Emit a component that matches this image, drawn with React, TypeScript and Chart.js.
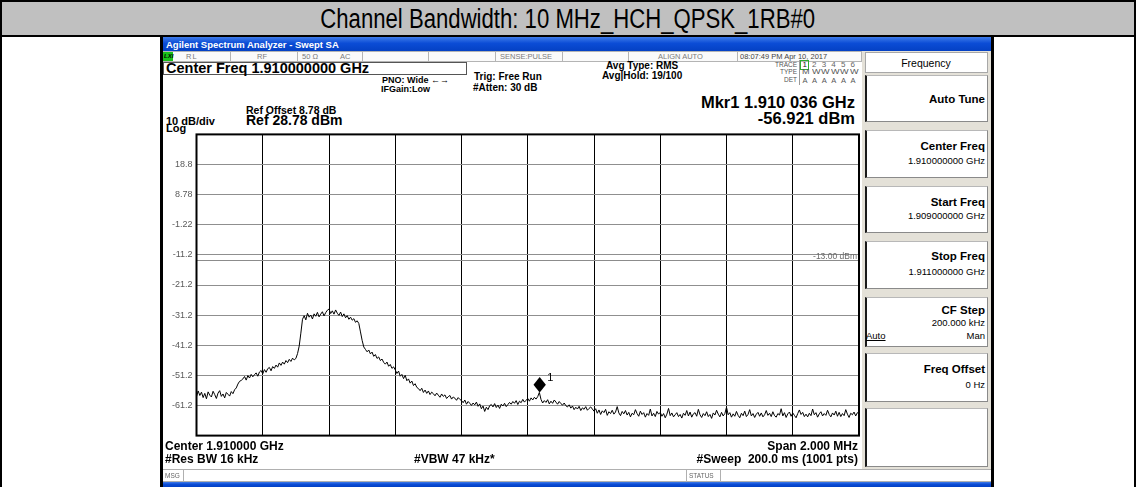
import React, { useEffect, useRef } from 'react';
import { Chart, registerables } from 'chart.js';

Chart.register(...registerables);

// ---------- data ----------
const titleText = 'Channel Bandwidth: 10 MHz_HCH_QPSK_1RB#0';
const traceStartMHz = 1909.0;
const traceStepMHz = 0.005;
const traceLevels = [
  -58.3, -56.4, -57.9, -56.8, -58.6, -57.2, -59.0, -56.7, -57.8, -58.4,
  -56.5, -57.6, -58.9, -57.1, -56.3, -58.2, -57.4, -58.7, -56.9, -57.5,
  -58.1, -56.6, -57.3, -56.0, -55.4,
  -54.1, -53.2, -52.9,
  -52.4, -51.6, -52.8, -51.3, -52.1, -50.9, -51.7, -51.0, -50.4, -51.5,
  -50.1, -49.6, -50.7, -49.3, -50.2, -49.0, -48.6, -49.7, -48.3, -48.9,
  -47.8, -48.5, -47.1, -47.9, -46.8, -47.5, -46.3, -47.0, -45.9, -46.6, -45.5, -46.1,
  -45.6, -44.0, -41.5, -37.2, -32.6,
  -31.4, -32.8, -30.6, -31.9, -31.2, -32.5, -30.8, -31.6, -30.3, -31.8,
  -30.9, -30.1, -31.5, -30.4, -29.6, -29.2, -30.7, -29.8, -30.9, -29.5,
  -30.6, -31.3, -30.2, -31.7, -30.8, -32.1, -31.4, -32.6, -31.9, -32.9,
  -32.4, -33.6, -33.1,
  -34.0, -36.8, -39.6, -41.8,
  -42.6, -43.4, -42.8, -44.1, -43.5, -44.9, -44.3, -45.6, -45.1, -46.3,
  -45.8, -46.9, -47.5, -46.8, -48.2, -47.6, -48.9, -48.4,
  -49.4, -50.6, -49.8, -51.5, -50.9, -52.3, -51.2, -53.0, -52.4, -53.8,
  -53.1, -54.6, -54.0, -55.2,
  -55.6, -56.3, -55.5, -56.9, -56.1, -57.2, -56.4, -57.6, -56.8, -57.3,
  -58.0, -57.1, -57.8, -58.5, -57.4, -58.2, -57.7, -58.9, -58.3, -57.9, -59.1, -58.4, -58.8, -59.5, -58.6, -59.2,
  -59.6, -60.3, -59.4, -60.8, -59.9, -60.5, -61.2, -60.4, -61.0, -60.1,
  -61.5, -60.7, -62.3, -61.4, -63.2, -61.8, -62.6, -61.3, -60.9, -61.7,
  -60.6, -61.9, -61.1, -62.2, -60.8, -61.4, -60.5, -61.6, -60.9, -60.2,
  -60.8, -59.9, -60.5, -59.6, -60.9, -59.8, -60.3, -59.2, -60.1, -59.5,
  -58.9, -59.8, -58.7, -59.4, -58.5, -59.1, -58.3,
  -56.9,
  -59.2, -60.4, -59.6, -60.2, -59.3, -60.7, -59.8, -60.5, -59.4, -60.1,
  -60.8, -59.9, -60.6, -61.1, -60.4, -61.3,
  -61.7, -61.0, -62.1, -61.4, -62.6, -61.8, -62.4, -61.5, -62.9, -62.0,
  -62.5, -61.6, -62.8, -62.2, -61.7, -62.4,
  -63.1, -62.3, -63.8, -62.7, -64.2, -63.0, -63.6, -62.5, -64.5, -63.3,
  -63.9, -62.8, -64.1, -63.4, -61.6, -63.7, -64.6, -63.2, -64.0, -62.9,
  -64.4, -63.5, -65.0, -63.8, -64.3, -62.6, -63.9, -64.8, -63.1, -64.2,
  -63.6, -65.1, -63.9, -64.5, -62.4, -64.7, -63.8, -64.9, -63.2, -64.1,
  -63.5, -64.8, -63.9, -65.3, -64.1, -62.2, -64.6, -63.7, -65.0, -64.3,
  -63.6, -64.9, -64.2, -65.4, -63.8, -64.5, -62.9, -64.7, -63.4, -65.1,
  -64.0, -63.6, -64.8, -62.5, -64.3, -65.2, -63.9, -64.6, -63.3, -64.9,
  -64.2, -65.5, -63.7, -64.4, -62.8, -64.1, -65.0, -63.5, -64.7, -63.9,
  -61.8, -64.3, -63.6, -65.1, -64.0, -64.8, -63.2, -64.5, -65.3, -63.8,
  -64.6, -63.1, -64.9, -64.2, -62.6, -64.7, -63.9, -65.2, -64.1, -63.5,
  -64.8, -63.7, -65.0, -64.3, -62.9, -64.5, -63.8, -64.9, -63.3, -64.6,
  -65.1, -63.9, -64.4, -62.3, -64.7, -63.6, -65.2, -64.0, -63.4, -64.8,
  -63.7, -64.5, -65.3, -63.9, -62.7, -64.2, -63.5, -64.9, -64.1, -65.0,
  -63.8, -64.6, -62.4, -64.3, -63.6, -65.1, -64.0, -63.3, -64.7, -63.9,
  -64.5, -62.8, -64.2, -65.0, -63.7, -64.4, -63.1, -64.8, -63.5, -64.9,
  -63.9, -64.6, -62.6, -64.1, -65.2, -63.8, -64.3, -63.4, -64.7, -63.6,
  -64.0,
];
const xGridMHz = [1909.0, 1909.2, 1909.4, 1909.6, 1909.8, 1910.0, 1910.2, 1910.4, 1910.6, 1910.8, 1911.0];
const yGridDbm = [-71.22, -61.22, -51.22, -41.22, -31.22, -21.22, -11.22, -1.22, 8.78, 18.78, 28.78];
const yTickLabels = ['', '-61.2', '-51.2', '-41.2', '-31.2', '-21.2', '-11.2', '-1.22', '8.78', '18.8', ''];
const markerFreqMHz = 1910.036;
const markerLevelDbm = -56.921;
const markerLabel = '1';
const displayLineDbm = -13.0;
const displayLineLabel = '-13.00 dBm';

const traceNums = ['1', '2', '3', '4', '5', '6'];
const traceTypes = ['M', 'W', 'W', 'W', 'W', 'W'];
const traceDets = ['A', 'A', 'A', 'A', 'A', 'A'];

const FONT = "'Liberation Sans', Arial, Helvetica, sans-serif";

function T(props: any) {
  const { x, y, s = 10, b = false, c = '#000', r = false, center = false, u = false, children, extra } = props;
  const style: any = {
    position: 'absolute',
    top: y - s * 0.6,
    height: s * 1.2,
    fontSize: s,
    lineHeight: `${s * 1.2}px`,
    whiteSpace: 'nowrap',
    fontWeight: b ? 700 : 400,
    color: c,
    textDecoration: u ? 'underline' : 'none',
    ...(extra || {}),
  };
  if (r) style.right = 1136 - x;
  else if (center) {
    style.left = x;
    style.transform = 'translateX(-50%)';
  } else style.left = x;
  return <div style={style}>{children}</div>;
}

function Bx(props: any) {
  const { x, y, w, h, style } = props;
  return <div style={{ position: 'absolute', left: x, top: y, width: w, height: h, boxSizing: 'border-box', ...(style || {}) }} />;
}

function SK(props: any) {
  const { y, h } = props;
  return (
    <Bx
      x={865}
      y={y}
      w={123}
      h={h}
      style={{
        background: '#fff',
        borderTop: '1px solid #b8b8b8',
        borderRight: '1px solid #8a8a8a',
        borderBottom: '1px solid #8a8a8a',
        borderLeft: '2px solid #1a1a1a',
      }}
    />
  );
}

const blueGrad = 'linear-gradient(to bottom, #3f7ce9 0%, #0b4cd6 45%, #0441c4 100%)';

export default function App() {
  const ref = useRef<HTMLCanvasElement | null>(null);

  useEffect(() => {
    if (!ref.current) return;
    const data = traceLevels.map((v, i) => ({ x: traceStartMHz + i * traceStepMHz, y: v }));
    const saPlugin = {
      id: 'saOverlay',
      beforeDatasetsDraw(chart: any) {
        const { ctx, chartArea, scales } = chart;
        const y = scales.y.getPixelForValue(displayLineDbm);
        ctx.save();
        ctx.strokeStyle = '#8c8c8c';
        ctx.lineWidth = 1;
        ctx.beginPath();
        ctx.moveTo(chartArea.left, Math.round(y) + 0.5);
        ctx.lineTo(chartArea.right, Math.round(y) + 0.5);
        ctx.stroke();
        ctx.fillStyle = '#6a6a6a';
        ctx.font = `8.5px ${FONT}`;
        ctx.textAlign = 'right';
        ctx.textBaseline = 'middle';
        ctx.fillText(displayLineLabel, chartArea.right - 2, y - 3.5);
        ctx.restore();
      },
      afterDatasetsDraw(chart: any) {
        const { ctx, chartArea, scales } = chart;
        const mx = scales.x.getPixelForValue(markerFreqMHz);
        const my = scales.y.getPixelForValue(markerLevelDbm);
        ctx.save();
        ctx.fillStyle = '#000';
        ctx.beginPath();
        ctx.moveTo(mx, my);
        ctx.lineTo(mx + 6.2, my - 7.8);
        ctx.lineTo(mx, my - 15.6);
        ctx.lineTo(mx - 6.2, my - 7.8);
        ctx.closePath();
        ctx.fill();
        ctx.font = `11px ${FONT}`;
        ctx.textAlign = 'left';
        ctx.textBaseline = 'middle';
        ctx.fillText(markerLabel, mx + 7.5, my - 14.5);
        ctx.strokeStyle = '#000';
        ctx.lineWidth = 2;
        ctx.strokeRect(chartArea.left, chartArea.top, chartArea.right - chartArea.left, chartArea.bottom - chartArea.top);
        ctx.restore();
      },
    };

    const chart = new Chart(ref.current, {
      type: 'line',
      data: {
        datasets: [
          {
            data,
            borderColor: '#000',
            borderWidth: 1,
            pointRadius: 0,
            tension: 0,
            fill: false,
          },
        ],
      },
      options: {
        animation: false,
        responsive: false,
        devicePixelRatio: 1,
        layout: { padding: { top: 5.5, right: 6, bottom: 7, left: 0 } },
        plugins: { legend: { display: false }, tooltip: { enabled: false } },
        scales: {
          x: {
            type: 'linear',
            min: xGridMHz[0],
            max: xGridMHz[xGridMHz.length - 1],
            afterBuildTicks: (s: any) => {
              s.ticks = xGridMHz.map((v) => ({ value: v }));
            },
            afterFit: (s: any) => {
              s.height = 0;
            },
            ticks: { display: false },
            grid: { color: '#000', lineWidth: 1, drawTicks: false },
            border: { display: false },
          },
          y: {
            type: 'linear',
            min: yGridDbm[0],
            max: yGridDbm[yGridDbm.length - 1],
            afterBuildTicks: (s: any) => {
              s.ticks = yGridDbm.map((v) => ({ value: v }));
            },
            afterFit: (s: any) => {
              s.width = 36.5;
            },
            ticks: {
              padding: 4,
              color: '#5a5a5a',
              font: { family: FONT, size: 9 },
              callback: (_v: any, i: number) => yTickLabels[i],
            },
            grid: { color: '#8f8f8f', lineWidth: 1, drawTicks: false },
            border: { display: false },
          },
        },
      } as any,
      plugins: [saPlugin],
    });
    return () => chart.destroy();
  }, []);

  const g = '#7a7a7a';
  const statusSeps = [230, 297, 362, 428, 495, 562, 628, 737];

  return (
    <div
      style={{
        position: 'fixed',
        left: 0,
        top: 0,
        width: 1136,
        height: 487,
        overflow: 'hidden',
        background: '#fff',
        fontFamily: FONT,
      }}
    >
      {/* outer table */}
      <Bx x={0} y={0} w={1136} h={37} style={{ background: '#c0c0c0', border: '2px solid #000' }} />
      <div
        style={{
          position: 'absolute',
          left: 0,
          width: 1136,
          top: 4,
          height: 30,
          lineHeight: '30px',
          textAlign: 'center',
          fontSize: 27,
          color: '#000',
          whiteSpace: 'nowrap',
        }}
      >
        <span style={{ display: 'inline-block', transform: 'scaleX(0.82)' }}>{titleText}</span>
      </div>
      <Bx x={0} y={36} w={2} h={451} style={{ background: '#000' }} />
      <Bx x={1134} y={36} w={2} h={451} style={{ background: '#000' }} />

      {/* instrument frame */}
      <Bx x={160} y={36} w={3} h={451} style={{ background: '#000' }} />
      <Bx x={991} y={36} w={3} h={451} style={{ background: '#000' }} />
      <Bx x={163} y={37} w={828} h={14} style={{ background: blueGrad }} />
      <T x={166} y={44.5} s={9.5} b c="#fff">Agilent Spectrum Analyzer - Swept SA</T>

      {/* status row */}
      <Bx x={163} y={51} w={699} h={11} style={{ background: '#fafafa', border: '1px solid #b4b4b4' }} />
      {statusSeps.map((sx) => (
        <Bx key={sx} x={sx} y={51} w={1} h={11} style={{ background: '#b4b4b4' }} />
      ))}
      <Bx x={163} y={52} w={10} h={9} style={{ background: '#19c019' }} />
      <T x={164} y={56.5} s={6} b extra={{ fontStyle: 'italic' }}>LXI</T>
      <T x={186} y={56.5} s={7.5} c={g} extra={{ letterSpacing: 1 }}>RL</T>
      <T x={257} y={56.5} s={7.5} c={g}>RF</T>
      <T x={302} y={56.5} s={7.5} c={g}>50 Ω</T>
      <T x={340} y={56.5} s={7.5} c={g}>AC</T>
      <T x={500} y={56.5} s={7.5} c={g}>SENSE:PULSE</T>
      <T x={658} y={56.5} s={7.5} c={g}>ALIGN AUTO</T>
      <T x={740} y={56.5} s={7.5} c="#444">08:07:49 PM Apr 10, 2017</T>

      {/* header */}
      <Bx x={163} y={62} w={304} h={13} style={{ border: '1px solid #555' }} />
      <T x={166} y={68.5} s={14.5} b>Center Freq 1.910000000 GHz</T>
      <T x={382} y={80} s={9} b>PNO: Wide ←→</T>
      <T x={381} y={89} s={9} b>IFGain:Low</T>
      <T x={474} y={77} s={10} b>Trig: Free Run</T>
      <T x={473} y={88} s={10} b>#Atten: 30 dB</T>
      <T x={606} y={66} s={10} b>Avg Type: RMS</T>
      <T x={602} y={76} s={10} b>Avg|Hold: 19/100</T>

      <T x={797} y={64.5} s={6.5} c="#555" r>TRACE</T>
      <T x={797} y={72} s={6.5} c="#555" r>TYPE</T>
      <T x={797} y={79.5} s={6.5} c="#555" r>DET</T>
      <Bx x={799} y={60} w={1} h={25} style={{ background: '#9a9a9a' }} />
      <Bx x={800} y={60} w={9} h={10} style={{ border: '1px solid #2fae2f' }} />
      {traceNums.map((n, k) => (
        <T key={'n' + k} x={802.5 + k * 9.6} y={64.8} s={8} c={k === 0 ? '#222' : '#666'}>{n}</T>
      ))}
      {traceTypes.map((n, k) => (
        <T key={'t' + k} x={802 + k * 9.6} y={72.5} s={7} c="#555" extra={{ transform: 'scaleX(1.3)', transformOrigin: 'left' }}>{n}</T>
      ))}
      {traceDets.map((n, k) => (
        <T key={'d' + k} x={802.5 + k * 9.6} y={80} s={7.5} c="#555">{n}</T>
      ))}

      <T x={855} y={103} s={16.5} b r>Mkr1 1.910 036 GHz</T>
      <T x={855} y={118.5} s={16.5} b r>-56.921 dBm</T>
      <T x={246} y={110} s={10.5} b>Ref Offset 8.78 dB</T>
      <T x={246} y={120.5} s={14} b>Ref 28.78 dBm</T>
      <T x={166} y={121.5} s={11} b>10 dB/div</T>
      <T x={166} y={129} s={11} b>Log</T>

      {/* right panel */}
      <Bx x={862} y={51} w={129} h={419} style={{ background: '#e4e1d8' }} />
      <Bx x={865} y={52} w={123} h={21} style={{ background: '#fff', border: '1px solid #a8a8a8' }} />
      <T x={926} y={63} s={10.5} center>Frequency</T>
      <SK y={75} h={47} />
      <T x={985} y={100} s={11.5} b r>Auto Tune</T>
      <SK y={130} h={48} />
      <T x={985} y={147} s={11.5} b r>Center Freq</T>
      <T x={985} y={160.5} s={9.5} r>1.910000000 GHz</T>
      <SK y={186} h={47} />
      <T x={985} y={202.5} s={11.5} b r>Start Freq</T>
      <T x={985} y={216} s={9.5} r>1.909000000 GHz</T>
      <SK y={241} h={48} />
      <T x={985} y={257} s={11.5} b r>Stop Freq</T>
      <T x={985} y={272} s={9.5} r>1.911000000 GHz</T>
      <SK y={297} h={50} />
      <T x={985} y={311} s={11.5} b r>CF Step</T>
      <T x={985} y={323} s={9.5} r>200.000 kHz</T>
      <T x={866} y={335.5} s={9.5} u>Auto</T>
      <T x={985} y={335.5} s={9.5} r>Man</T>
      <SK y={353} h={49} />
      <T x={985} y={370} s={11.5} b r>Freq Offset</T>
      <T x={985} y={385} s={9.5} r>0 Hz</T>
      <SK y={408} h={59} />

      {/* chart */}
      <canvas
        ref={ref}
        width={705}
        height={320}
        style={{ position: 'absolute', left: 160, top: 125, width: 705, height: 320 }}
      />

      {/* footer */}
      <T x={165} y={446} s={12} b>Center 1.910000 GHz</T>
      <T x={858} y={446} s={12} b r>Span 2.000 MHz</T>
      <T x={165} y={459} s={12} b>#Res BW 16 kHz</T>
      <T x={414} y={459} s={12} b>#VBW 47 kHz*</T>
      <T x={858} y={459} s={12} b r extra={{ whiteSpace: 'pre' }}>#Sweep  200.0 ms (1001 pts)</T>
      <Bx x={163} y={469} w={828} h={13} style={{ background: '#fff', borderTop: '1px solid #b0b0b0', borderBottom: '1px solid #b0b0b0' }} />
      <Bx x={183} y={469} w={1} h={13} style={{ background: '#b0b0b0' }} />
      <Bx x={686} y={469} w={1} h={13} style={{ background: '#b0b0b0' }} />
      <Bx x={720} y={469} w={1} h={13} style={{ background: '#b0b0b0' }} />
      <T x={165} y={476} s={6.5} c="#666">MSG</T>
      <T x={689} y={476} s={6.5} c="#666">STATUS</T>
      <Bx x={163} y={482} w={828} h={5} style={{ background: blueGrad }} />
    </div>
  );
}
